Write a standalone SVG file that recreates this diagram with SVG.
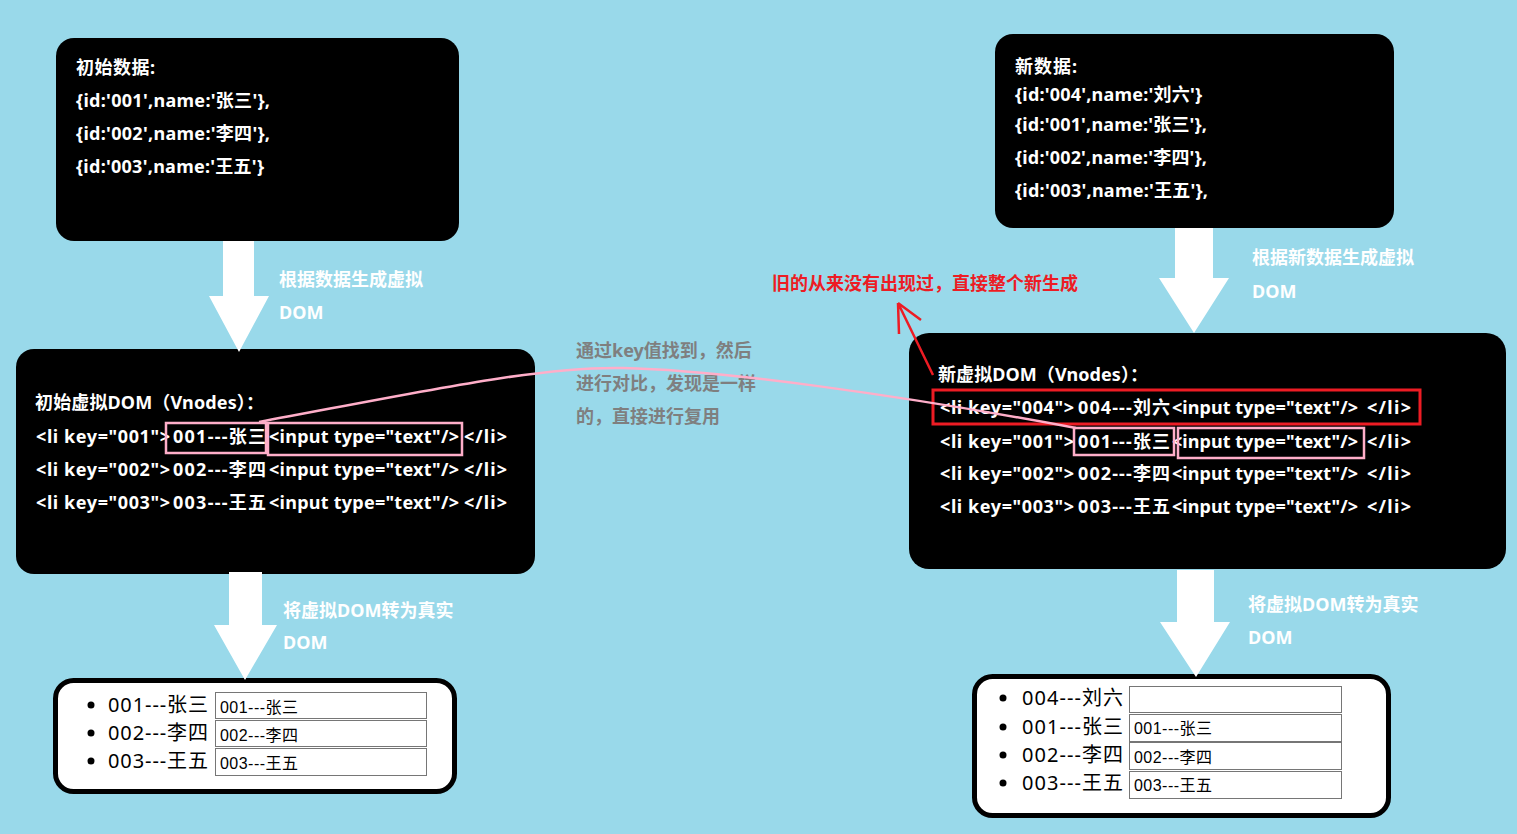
<svg xmlns="http://www.w3.org/2000/svg" width="1517" height="834" viewBox="0 0 1517 834">
<style>
.t{font-family:"Noto Sans","Noto Sans CJK SC",sans-serif;font-weight:bold;font-size:18px;fill:#fff}
.lbl{font-family:"Noto Sans","Noto Sans CJK SC",sans-serif;font-weight:bold;font-size:18px;fill:#fff}
.gray{font-family:"Noto Sans","Noto Sans CJK SC",sans-serif;font-weight:bold;font-size:18px;fill:#7f7f7f}
.red{font-family:"Noto Sans","Noto Sans CJK SC",sans-serif;font-weight:bold;font-size:18px;fill:#ed1c24}
.li{font-family:"Noto Sans","Noto Sans CJK SC",sans-serif;font-size:20px;fill:#000}
.inp{font-family:"Liberation Sans","Noto Sans CJK SC",sans-serif;font-size:16px;fill:#000}
.box{fill:#000}
.real{fill:#fff;stroke:#000;stroke-width:5}
.ibox{fill:#fff;stroke:#767676;stroke-width:1}
.arrow{fill:#fff}
.pink{fill:none;stroke:#ffaec9;stroke-width:2.5}
.redbox{fill:none;stroke:#ed1c24;stroke-width:3}
</style>
<rect width="1517" height="834" fill="#99d9ea"/>

<g id="init-data">
<rect class="box" x="56" y="38" width="403" height="203" rx="18"/>
<text class="t" x="76" y="74" textLength="79">初始数据:</text>
<text class="t" x="76" y="107" textLength="194">{id:'001',name:'张三'},</text>
<text class="t" x="76" y="140" textLength="194">{id:'002',name:'李四'},</text>
<text class="t" x="76" y="173" textLength="188">{id:'003',name:'王五'}</text>
</g>

<g id="new-data">
<rect class="box" x="995" y="34" width="399" height="194" rx="18"/>
<text class="t" x="1015" y="73" textLength="62">新数据:</text>
<text class="t" x="1015" y="101" textLength="187">{id:'004',name:'刘六'}</text>
<text class="t" x="1015" y="131" textLength="192">{id:'001',name:'张三'},</text>
<text class="t" x="1015" y="164" textLength="192">{id:'002',name:'李四'},</text>
<text class="t" x="1015" y="197" textLength="193">{id:'003',name:'王五'},</text>
</g>

<g id="init-vdom">
<rect class="box" x="16" y="349" width="519" height="225" rx="18"/>
<text class="t" x="35" y="409" textLength="229">初始虚拟DOM（Vnodes）：</text>
<text class="t" x="36" y="443" textLength="134">&lt;li key="001"&gt;</text>
<text class="t" x="173" y="443" textLength="93">001---张三</text>
<text class="t" x="269" y="443" textLength="190">&lt;input type="text"/&gt;</text>
<text class="t" x="464" y="443" textLength="43">&lt;/li&gt;</text>
<text class="t" x="36" y="476" textLength="134">&lt;li key="002"&gt;</text>
<text class="t" x="173" y="476" textLength="93">002---李四</text>
<text class="t" x="269" y="476" textLength="190">&lt;input type="text"/&gt;</text>
<text class="t" x="464" y="476" textLength="43">&lt;/li&gt;</text>
<text class="t" x="36" y="509" textLength="134">&lt;li key="003"&gt;</text>
<text class="t" x="173" y="509" textLength="93">003---王五</text>
<text class="t" x="269" y="509" textLength="190">&lt;input type="text"/&gt;</text>
<text class="t" x="464" y="509" textLength="43">&lt;/li&gt;</text>
<rect class="pink" x="166" y="423" width="100" height="30"/>
<rect class="pink" x="268" y="423" width="194" height="32"/>
</g>

<g id="new-vdom">
<rect class="box" x="909" y="333" width="597" height="236" rx="20"/>
<text class="t" x="938" y="381" textLength="210">新虚拟DOM（Vnodes）：</text>
<text class="t" x="940" y="414" textLength="134">&lt;li key="004"&gt;</text>
<text class="t" x="1078" y="414" textLength="92">004---刘六</text>
<text class="t" x="1172" y="414" textLength="186">&lt;input type="text"/&gt;</text>
<text class="t" x="1367" y="414" textLength="44">&lt;/li&gt;</text>
<text class="t" x="940" y="448" textLength="134">&lt;li key="001"&gt;</text>
<text class="t" x="1078" y="448" textLength="92">001---张三</text>
<text class="t" x="1172" y="448" textLength="186">&lt;input type="text"/&gt;</text>
<text class="t" x="1367" y="448" textLength="44">&lt;/li&gt;</text>
<text class="t" x="940" y="480" textLength="134">&lt;li key="002"&gt;</text>
<text class="t" x="1078" y="480" textLength="92">002---李四</text>
<text class="t" x="1172" y="480" textLength="186">&lt;input type="text"/&gt;</text>
<text class="t" x="1367" y="480" textLength="44">&lt;/li&gt;</text>
<text class="t" x="940" y="513" textLength="134">&lt;li key="003"&gt;</text>
<text class="t" x="1078" y="513" textLength="92">003---王五</text>
<text class="t" x="1172" y="513" textLength="186">&lt;input type="text"/&gt;</text>
<text class="t" x="1367" y="513" textLength="44">&lt;/li&gt;</text>
<rect class="redbox" x="933" y="390" width="487" height="34"/>
<rect class="pink" x="1074" y="428" width="100" height="27"/>
<rect class="pink" x="1178" y="428" width="186" height="30"/>
</g>

<g id="init-real">
<rect class="real" x="55.5" y="680.5" width="399" height="111" rx="18"/>
<circle cx="91" cy="705" r="3.5"/>
<circle cx="91" cy="733" r="3.5"/>
<circle cx="91" cy="761" r="3.5"/>
<text class="li" x="108" y="712" textLength="100">001---张三</text>
<text class="li" x="108" y="740" textLength="100">002---李四</text>
<text class="li" x="108" y="768" textLength="100">003---王五</text>
<rect class="ibox" x="215.5" y="692.5" width="211" height="26"/>
<rect class="ibox" x="215.5" y="720.5" width="211" height="26"/>
<rect class="ibox" x="215.5" y="748.5" width="211" height="27"/>
<text class="inp" x="220" y="713" textLength="78">001---张三</text>
<text class="inp" x="220" y="741" textLength="78">002---李四</text>
<text class="inp" x="220" y="769" textLength="78">003---王五</text>
</g>

<g id="new-real">
<rect class="real" x="974.5" y="676.5" width="414" height="139" rx="18"/>
<circle cx="1003" cy="698" r="3.5"/>
<circle cx="1003" cy="727" r="3.5"/>
<circle cx="1003" cy="755" r="3.5"/>
<circle cx="1003" cy="783" r="3.5"/>
<text class="li" x="1022" y="705" textLength="101">004---刘六</text>
<text class="li" x="1022" y="734" textLength="101">001---张三</text>
<text class="li" x="1022" y="762" textLength="101">002---李四</text>
<text class="li" x="1022" y="790" textLength="101">003---王五</text>
<rect class="ibox" x="1129.5" y="686.5" width="212" height="26"/>
<rect class="ibox" x="1129.5" y="714.5" width="212" height="27"/>
<rect class="ibox" x="1129.5" y="742.5" width="212" height="27"/>
<rect class="ibox" x="1129.5" y="771.5" width="212" height="27"/>
<text class="inp" x="1134" y="734" textLength="78">001---张三</text>
<text class="inp" x="1134" y="763" textLength="78">002---李四</text>
<text class="inp" x="1134" y="791" textLength="78">003---王五</text>
</g>

<g id="labels">
<text class="lbl" x="279" y="286">根据数据生成虚拟</text>
<text class="lbl" x="279" y="319">DOM</text>
<text class="lbl" x="283" y="617">将虚拟DOM转为真实</text>
<text class="lbl" x="283" y="649">DOM</text>
<text class="lbl" x="1252" y="264">根据新数据生成虚拟</text>
<text class="lbl" x="1252" y="298">DOM</text>
<text class="lbl" x="1248" y="611">将虚拟DOM转为真实</text>
<text class="lbl" x="1248" y="644">DOM</text>
<text class="gray" x="576" y="357">通过key值找到，然后</text>
<text class="gray" x="576" y="390">进行对比，发现是一样</text>
<text class="gray" x="576" y="423">的，直接进行复用</text>
<text class="red" x="772" y="290">旧的从来没有出现过，直接整个新生成</text>
</g>

<g id="connectors">
<polygon class="arrow" points="223,241 254,241 254,296 269,296 239,352 209,296 223,296"/>
<polygon class="arrow" points="229,572 262,572 262,625 277,625 245,680 214,625 229,625"/>
<polygon class="arrow" points="1175,228 1213,228 1213,278 1229,278 1194,333 1159,278 1175,278"/>
<polygon class="arrow" points="1177,570 1214,570 1214,622 1230,622 1196,677 1160,622 1177,622"/>
<path class="pink" d="M259 422 C420 392 540 366 623 368 C720 370 900 395 1076 428" stroke-width="2"/>
<path d="M933 375 L898 303 M898 303 L899 334 M898 303 L921 320" fill="none" stroke="#ed1c24" stroke-width="2.5"/>
</g>
</svg>
